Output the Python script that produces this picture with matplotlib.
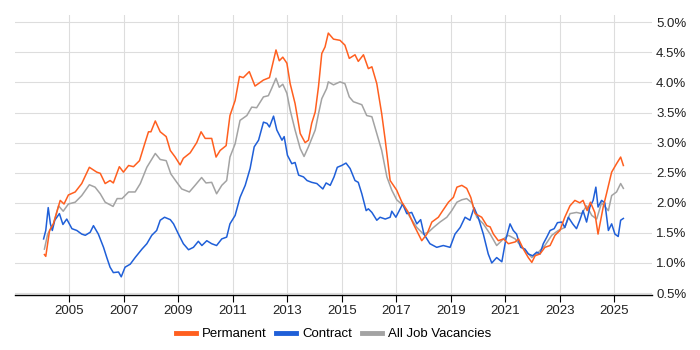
import matplotlib
matplotlib.use("Agg")
import matplotlib.pyplot as plt
from matplotlib.ticker import FixedLocator, FuncFormatter

plt.rcParams['font.family'] = ['Liberation Sans', 'DejaVu Sans']

perm_x = [2004.08, 2004.13, 2004.27, 2004.41, 2004.66, 2004.8, 2004.96, 2005.21, 2005.45, 2005.73, 2006.0, 2006.13,
          2006.31, 2006.49, 2006.61, 2006.83, 2006.98, 2007.17, 2007.35, 2007.57, 2007.74, 2007.9, 2007.99, 2008.15,
          2008.33, 2008.55, 2008.7, 2008.88, 2009.06, 2009.18, 2009.43, 2009.67, 2009.83, 2009.98, 2010.22, 2010.38,
          2010.53, 2010.75, 2010.89, 2011.08, 2011.24, 2011.38, 2011.6, 2011.81, 2012.12, 2012.34, 2012.58, 2012.7,
          2012.83, 2012.98, 2013.1, 2013.28, 2013.47, 2013.65, 2013.77, 2013.89, 2014.02, 2014.14, 2014.26, 2014.38,
          2014.5, 2014.69, 2014.93, 2015.11, 2015.27, 2015.48, 2015.6, 2015.79, 2015.97, 2016.1, 2016.28, 2016.46,
          2016.59, 2016.77, 2017.01, 2017.2, 2017.44, 2017.62, 2017.93, 2018.12, 2018.3, 2018.54, 2018.7, 2018.91,
          2019.09, 2019.22, 2019.4, 2019.58, 2019.73, 2019.89, 2020.13, 2020.32, 2020.44, 2020.56, 2020.74, 2020.93,
          2021.11, 2021.36, 2021.48, 2021.66, 2021.84, 2021.97, 2022.09, 2022.27, 2022.45, 2022.64, 2022.82, 2023.0,
          2023.18, 2023.37, 2023.55, 2023.73, 2023.85, 2024.0, 2024.12, 2024.28, 2024.4, 2024.59, 2024.71, 2024.9,
          2025.08, 2025.23, 2025.33]
perm_y = [1.14, 1.11, 1.54, 1.65, 2.04, 1.98, 2.13, 2.18, 2.32, 2.59, 2.51, 2.49,
          2.32, 2.37, 2.33, 2.60, 2.51, 2.62, 2.60, 2.70, 2.95, 3.18, 3.18, 3.36,
          3.18, 3.10, 2.87, 2.76, 2.63, 2.74, 2.83, 3.00, 3.18, 3.07, 3.07, 2.76,
          2.87, 2.95, 3.45, 3.70, 4.10, 4.08, 4.18, 3.94, 4.04, 4.08, 4.54, 4.36,
          4.42, 4.32, 3.98, 3.65, 3.15, 3.00, 3.04, 3.32, 3.51, 3.93, 4.48, 4.59,
          4.82, 4.72, 4.70, 4.62, 4.40, 4.46, 4.35, 4.46, 4.23, 4.26, 3.98, 3.48,
          3.04, 2.37, 2.21, 2.01, 1.84, 1.65, 1.37, 1.48, 1.68, 1.76, 1.87, 2.01,
          2.09, 2.26, 2.29, 2.24, 2.09, 1.82, 1.76, 1.62, 1.60, 1.48, 1.37, 1.40,
          1.32, 1.35, 1.40, 1.23, 1.09, 1.01, 1.12, 1.15, 1.26, 1.29, 1.46, 1.54,
          1.76, 1.95, 2.04, 2.00, 2.04, 1.87, 2.01, 1.84, 1.48, 1.93, 2.15, 2.51,
          2.65, 2.76, 2.62]

contract_x = [2004.05, 2004.13, 2004.22, 2004.3, 2004.37, 2004.46, 2004.63, 2004.76, 2004.9, 2005.09, 2005.27, 2005.45,
              2005.58, 2005.76, 2005.88, 2006.06, 2006.25, 2006.37, 2006.49, 2006.61, 2006.8, 2006.9, 2007.04, 2007.23,
              2007.41, 2007.66, 2007.84, 2008.02, 2008.2, 2008.33, 2008.49, 2008.7, 2008.82, 2009.0, 2009.18, 2009.37,
              2009.55, 2009.73, 2009.86, 2010.04, 2010.22, 2010.4, 2010.59, 2010.77, 2010.89, 2011.08, 2011.26, 2011.45,
              2011.63, 2011.78, 2011.94, 2012.12, 2012.25, 2012.34, 2012.49, 2012.61, 2012.8, 2012.88, 2013.0, 2013.16,
              2013.28, 2013.41, 2013.59, 2013.72, 2013.89, 2014.08, 2014.3, 2014.42, 2014.57, 2014.71, 2014.83, 2014.99,
              2015.15, 2015.3, 2015.48, 2015.6, 2015.73, 2015.89, 2015.97, 2016.1, 2016.28, 2016.4, 2016.59, 2016.77,
              2016.83, 2016.98, 2017.07, 2017.23, 2017.38, 2017.56, 2017.75, 2017.89, 2018.01, 2018.23, 2018.48, 2018.72,
              2018.97, 2019.15, 2019.34, 2019.52, 2019.7, 2019.85, 2020.0, 2020.19, 2020.37, 2020.5, 2020.68, 2020.87,
              2021.02, 2021.17, 2021.29, 2021.41, 2021.56, 2021.72, 2021.84, 2022.0, 2022.15, 2022.27, 2022.39, 2022.52,
              2022.64, 2022.79, 2022.91, 2023.07, 2023.18, 2023.31, 2023.47, 2023.61, 2023.73, 2023.85, 2023.98, 2024.1,
              2024.22, 2024.32, 2024.4, 2024.53, 2024.65, 2024.78, 2024.9, 2025.02, 2025.14, 2025.23, 2025.33]
contract_y = [1.40, 1.54, 1.92, 1.65, 1.54, 1.71, 1.82, 1.64, 1.73, 1.57, 1.54, 1.48,
              1.46, 1.51, 1.62, 1.48, 1.26, 1.09, 0.93, 0.84, 0.85, 0.77, 0.93, 0.98,
              1.09, 1.23, 1.32, 1.46, 1.54, 1.71, 1.76, 1.72, 1.65, 1.48, 1.32, 1.22,
              1.26, 1.36, 1.29, 1.37, 1.32, 1.29, 1.40, 1.43, 1.65, 1.79, 2.09, 2.29,
              2.57, 2.93, 3.04, 3.34, 3.32, 3.26, 3.44, 3.21, 3.04, 3.10, 2.79, 2.65,
              2.67, 2.46, 2.43, 2.37, 2.34, 2.32, 2.23, 2.33, 2.29, 2.43, 2.59, 2.62,
              2.66, 2.57, 2.37, 2.34, 2.15, 1.87, 1.90, 1.84, 1.71, 1.76, 1.73, 1.76,
              1.86, 1.76, 1.84, 1.98, 1.82, 1.84, 1.65, 1.72, 1.48, 1.32, 1.26, 1.29,
              1.26, 1.48, 1.59, 1.76, 1.71, 1.92, 1.76, 1.48, 1.15, 1.00, 1.09, 1.02,
              1.40, 1.65, 1.54, 1.48, 1.26, 1.23, 1.15, 1.12, 1.18, 1.15, 1.32, 1.43,
              1.54, 1.57, 1.67, 1.68, 1.59, 1.76, 1.65, 1.57, 1.71, 1.87, 1.68, 1.93,
              2.04, 2.26, 1.93, 2.04, 2.00, 1.54, 1.65, 1.48, 1.44, 1.71, 1.74]

all_x = [2004.08, 2004.2, 2004.41, 2004.6, 2004.77, 2004.96, 2005.21, 2005.45, 2005.73, 2005.94, 2006.13, 2006.31,
         2006.6, 2006.75, 2006.93, 2007.17, 2007.41, 2007.6, 2007.84, 2008.15, 2008.33, 2008.55, 2008.72, 2008.94,
         2009.12, 2009.4, 2009.61, 2009.85, 2010.01, 2010.22, 2010.4, 2010.59, 2010.77, 2010.89, 2011.08, 2011.26,
         2011.51, 2011.69, 2011.87, 2012.12, 2012.3, 2012.42, 2012.58, 2012.7, 2012.83, 2012.98, 2013.1, 2013.28,
         2013.47, 2013.61, 2013.77, 2014.02, 2014.14, 2014.26, 2014.44, 2014.5, 2014.69, 2014.93, 2015.11, 2015.27,
         2015.42, 2015.73, 2015.91, 2016.1, 2016.28, 2016.46, 2016.65, 2016.83, 2017.01, 2017.26, 2017.5, 2017.75,
         2017.99, 2018.17, 2018.36, 2018.6, 2018.85, 2019.03, 2019.22, 2019.4, 2019.58, 2019.77, 2019.95, 2020.19,
         2020.44, 2020.68, 2020.93, 2021.11, 2021.36, 2021.55, 2021.79, 2021.97, 2022.21, 2022.45, 2022.7, 2022.94,
         2023.18, 2023.37, 2023.61, 2023.8, 2023.98, 2024.17, 2024.35, 2024.53, 2024.78, 2024.9, 2025.08, 2025.23,
         2025.33]
all_y = [1.23, 1.48, 1.65, 1.95, 1.86, 1.98, 2.01, 2.12, 2.30, 2.26, 2.15, 2.01,
         1.94, 2.07, 2.07, 2.18, 2.18, 2.32, 2.59, 2.82, 2.72, 2.70, 2.48, 2.34,
         2.23, 2.18, 2.29, 2.42, 2.33, 2.34, 2.15, 2.29, 2.37, 2.76, 2.98, 3.37,
         3.45, 3.59, 3.58, 3.76, 3.78, 3.90, 4.07, 3.92, 3.97, 3.82, 3.54, 3.21,
         2.90, 2.77, 2.93, 3.21, 3.48, 3.73, 3.90, 4.01, 3.96, 4.01, 3.98, 3.76,
         3.68, 3.63, 3.45, 3.43, 3.15, 2.87, 2.43, 2.21, 2.05, 1.95, 1.76, 1.59,
         1.48, 1.51, 1.59, 1.68, 1.76, 1.87, 2.01, 2.05, 2.07, 2.00, 1.76, 1.65,
         1.48, 1.29, 1.40, 1.46, 1.40, 1.29, 1.18, 1.09, 1.18, 1.29, 1.46, 1.54,
         1.59, 1.82, 1.84, 1.82, 1.95, 1.79, 1.73, 2.00, 1.87, 2.12, 2.18, 2.32,
         2.24]

year_ticks = [2005, 2007, 2009, 2011, 2013, 2015, 2017, 2019, 2021, 2023, 2025]
pct_ticks = [0.5, 1.0, 1.5, 2.0, 2.5, 3.0, 3.5, 4.0, 4.5, 5.0]

c_perm = '#FF5F1F'
c_con = '#1F5FD8'
c_all = '#A3A3A3'

fig = plt.figure(figsize=(7, 3.5), dpi=100)
ax = fig.add_axes([0.0214, 0.157, 0.910, 0.800])

ax.plot(all_x, all_y, color=c_all, lw=1.1, label='All Job Vacancies', zorder=2)
ax.plot(contract_x, contract_y, color=c_con, lw=1.1, label='Contract', zorder=3)
ax.plot(perm_x, perm_y, color=c_perm, lw=1.1, label='Permanent', zorder=4)

ax.set_xlim(2003.0, 2026.38)
ax.set_ylim(0.467, 5.12)
ax.xaxis.set_major_locator(FixedLocator(year_ticks))
ax.yaxis.set_major_locator(FixedLocator(pct_ticks))
ax.yaxis.set_major_formatter(FuncFormatter(lambda v, p: f"{v:.1f}%"))
ax.yaxis.tick_right()
ax.grid(True, color='#DDDDDD', lw=0.8, zorder=0)
for s in ['top', 'left', 'right']:
    ax.spines[s].set_visible(False)
ax.spines['bottom'].set_color('#000000')
ax.spines['bottom'].set_linewidth(1.0)
ax.tick_params(axis='y', length=0, pad=3, labelsize=9.5, colors='#222222')
ax.tick_params(axis='x', length=5, width=0.8, color='#000000', labelsize=9.5, labelcolor='#222222', pad=2)

handles, labels = ax.get_legend_handles_labels()
order = [2, 1, 0]
leg = fig.legend([handles[i] for i in order], [labels[i] for i in order],
                 loc='center', bbox_to_anchor=(0.4764, 0.045), ncol=3, frameon=False,
                 fontsize=9.5, handlelength=1.5, handletextpad=0.45, columnspacing=0.75)
for line in leg.get_lines():
    line.set_linewidth(3.5)

fig.savefig('out.png', dpi=100)
